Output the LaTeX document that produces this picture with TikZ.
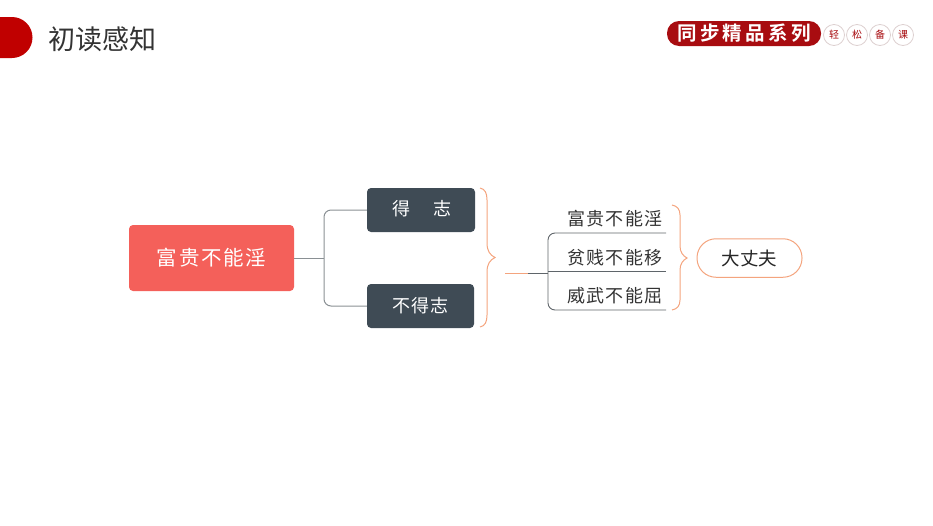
\documentclass[tikz,border=0pt]{standalone}
\usepackage{fontspec}
\setmainfont{Noto Sans CJK SC}
\newfontfamily\cjkA[LetterSpace=8]{Noto Sans CJK SC}
\newfontfamily\cjkB[LetterSpace=7]{Noto Sans CJK SC}
\newfontfamily\cjkC[LetterSpace=17]{Noto Sans CJK SC Bold}
\definecolor{brandred}{HTML}{C00000}
\definecolor{badgered}{HTML}{A80C10}
\definecolor{rootred}{HTML}{F4605A}
\definecolor{slatebox}{HTML}{3F4B55}
\definecolor{edgegray}{HTML}{8A9094}
\definecolor{edgedark}{HTML}{5F656A}
\definecolor{braceorange}{HTML}{F4A47E}
\definecolor{ringgray}{HTML}{DDD0D0}
\tikzset{
  rootbox/.style={fill=rootred,rounded corners=4pt,inner sep=0pt,text=white},
  darkbox/.style={fill=slatebox,rounded corners=4pt,inner sep=0pt,text=white},
  conn/.style={draw=edgegray,line width=1pt,rounded corners=7pt},
  leafline/.style={draw=edgedark,line width=.9pt,rounded corners=7pt},
  bracepath/.style={draw=braceorange,line width=1pt},
  leaflabel/.style={inner sep=0pt,text=black!80,anchor=center},
  ringnode/.style={circle,draw=ringgray,fill=white,line width=.8pt,minimum size=21pt,inner sep=0pt,text=badgered}
}
\begin{document}
\begin{tikzpicture}[x=1pt,y=-1pt]
\useasboundingbox (0,0) rectangle (933,525);
% header tab
\fill[brandred] (0,17) -- (12,17) arc[start angle=-90,end angle=90,radius=20.5] -- (0,58) -- cycle;
\node[inner sep=0pt,text=black!80,font=\fontsize{27}{30}\selectfont] (title) at (102,39) {初读感知};
% badge
\node[fill=badgered,rounded corners=12pt,minimum width=154pt,minimum height=25pt,inner sep=0pt,text=white,font=\cjkC\fontsize{19.5}{22}\selectfont] (badge) at (744,33.5) {同步精品系列};
\node[ringnode,font=\fontsize{10}{11}\selectfont] (r1) at (834,35) {轻};
\node[ringnode,font=\fontsize{10}{11}\selectfont] (r2) at (857,35) {松};
\node[ringnode,font=\fontsize{10}{11}\selectfont] (r3) at (880,35) {备};
\node[ringnode,font=\fontsize{10}{11}\selectfont] (r4) at (903,35) {课};
% main boxes
\node[rootbox,minimum width=165pt,minimum height=66pt,font=\cjkA\fontsize{20.5}{24}\selectfont] (root) at (211.5,258) {富贵不能淫};
\node[darkbox,minimum width=108pt,minimum height=44pt] (de) at (421,210) {};
\node[inner sep=0pt,text=white,font=\fontsize{18}{20}\selectfont] (de1) at (401,209) {得};
\node[inner sep=0pt,text=white,font=\fontsize{18}{20}\selectfont] (de2) at (442,209) {志};
\node[darkbox,minimum width=107pt,minimum height=44pt,font=\cjkA\fontsize{18}{20}\selectfont] (bude) at (420.5,306) {不得志};
\coordinate (fork) at (324,258);
\draw[conn] (root.east) -- (fork);
\draw[conn] (de.west) -- (324,210) -- (324,306) -- (bude.west);
% first brace
\coordinate (b1t) at (480,188);
\coordinate (b1m) at (495,257.5);
\coordinate (b1b) at (480,327);
\draw[bracepath] (b1t) .. controls (485,189) and (487,193) .. (487,200) -- (487,243) .. controls (487,251) and (490,255) .. (b1m) .. controls (490,260) and (487,264) .. (487,272) -- (487,315) .. controls (487,322) and (485,326) .. (b1b);
% hub
\coordinate (hubL) at (505,273);
\coordinate (hubM) at (528,273);
\coordinate (hub) at (548,273);
\draw[bracepath] (hubL) -- (hubM);
\draw[leafline] (hubM) -- (hub);
% leaves
\coordinate (l1) at (666,233);
\coordinate (l2) at (666,271.5);
\coordinate (l3) at (666,310);
\draw[leafline] (l1) -- (548,233) -- (548,310) -- (l3);
\draw[leafline] (548,271.5) -- (l2);
\node[leaflabel,font=\cjkB\fontsize{18}{20}\selectfont] (t1) at (615,218.5) {富贵不能淫};
\node[leaflabel,font=\cjkB\fontsize{18}{20}\selectfont] (t2) at (615,257.5) {贫贱不能移};
\node[leaflabel,font=\cjkB\fontsize{18}{20}\selectfont] (t3) at (615,296) {威武不能屈};
% second brace
\coordinate (b2t) at (672,205);
\coordinate (b2m) at (687,258);
\coordinate (b2b) at (672,310);
\draw[bracepath] (b2t) .. controls (677,206) and (680,209) .. (680,215) -- (680,246) .. controls (680,252) and (683,256) .. (b2m) .. controls (683,260) and (680,264) .. (680,270) -- (680,300) .. controls (680,306) and (677,309) .. (b2b);
% pill
\node[draw=braceorange,fill=white,line width=1pt,rounded corners=19pt,minimum width=105pt,minimum height=38.5pt,inner sep=0pt,text=black!85,font=\fontsize{18.5}{20}\selectfont] (hero) at (749.5,258) {大丈夫};
\end{tikzpicture}
\end{document}
